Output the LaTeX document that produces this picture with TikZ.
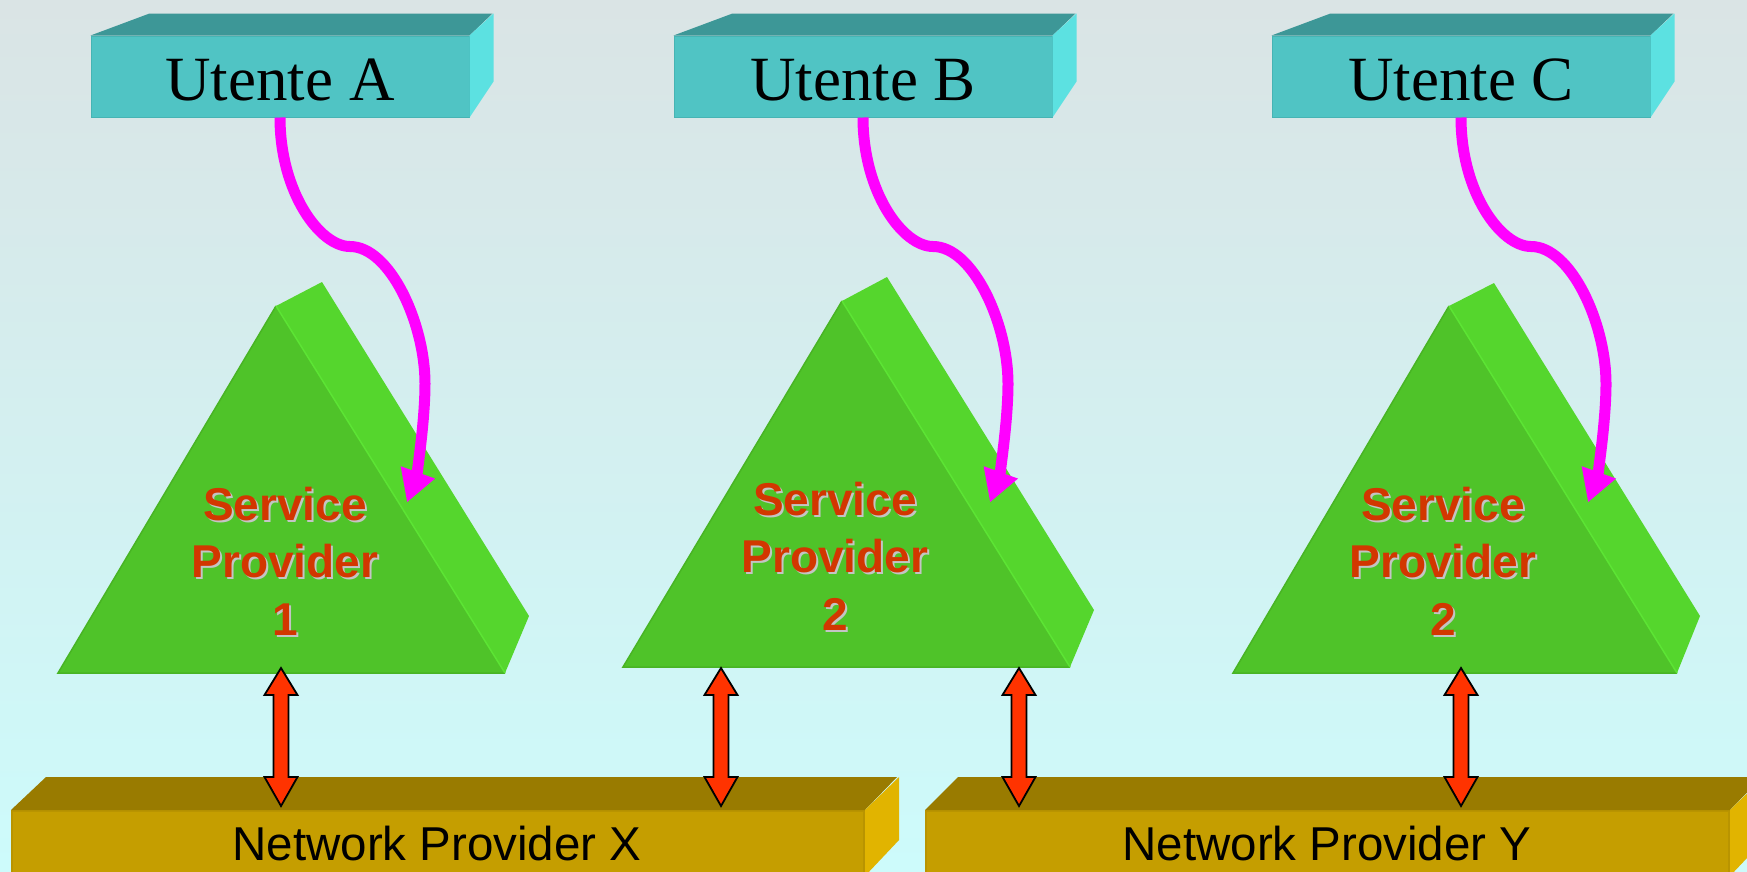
\documentclass[tikz,border=0pt]{standalone}
\usepackage{fontspec}
\setmainfont{Liberation Serif}
\setsansfont{Liberation Sans}
\usetikzlibrary{arrows.meta,calc}

% palette
\definecolor{bgtop}{RGB}{218,228,229}
\definecolor{bgbot}{RGB}{205,251,251}
\definecolor{cyfront}{RGB}{80,196,196}
\definecolor{cytop}{RGB}{61,151,151}
\definecolor{cyside}{RGB}{92,225,225}
\definecolor{cyedge}{RGB}{70,180,180}
\definecolor{grfront}{RGB}{79,195,41}
\definecolor{grside}{RGB}{85,214,45}
\definecolor{gredge}{RGB}{72,180,36}
\definecolor{grlight}{RGB}{92,228,52}
\definecolor{gdfront}{RGB}{197,158,0}
\definecolor{gdtop}{RGB}{153,123,0}
\definecolor{gdside}{RGB}{225,180,0}
\definecolor{gdedge}{RGB}{185,148,0}
\definecolor{linkmag}{RGB}{255,0,255}
\definecolor{blockred}{RGB}{255,51,0}
\definecolor{sptxt}{RGB}{210,55,0}
\definecolor{spshadow}{RGB}{196,196,196}

\tikzset{
  userface/.style={fill=cyfront, draw=cyedge, line width=1pt,
    minimum width=378pt, minimum height=81pt, inner sep=0pt,
    text height=47pt, text depth=0pt, font=\fontsize{63}{70}\selectfont},
  usertop/.style={fill=cytop},
  userside/.style={fill=cyside},
  netface/.style={fill=gdfront, draw=gdedge, line width=2pt, inner sep=0pt,
    minimum height=64pt, anchor=north west},
  nettop/.style={fill=gdtop},
  netside/.style={fill=gdside},
  nettext/.style={anchor=base, inner sep=0pt,
    font=\sffamily\fontsize{47.5}{55}\selectfont},
  spfront/.style={fill=grfront},
  spside/.style={fill=grside},
  spedge/.style={draw=gredge, line width=1.5pt},
  sphigh/.style={draw=grlight, line width=1.5pt},
  sptext/.style={align=center, inner sep=0pt, text=sptxt,
    font=\sffamily\bfseries\fontsize{46}{57.5}\selectfont},
  spshade/.style={sptext, text=spshadow},
  userlinkstyle/.style={draw=linkmag, line width=11pt,
    -{Triangle[length=32pt,width=34pt]}},
  blockarrow/.style={fill=blockred, draw=black, line width=1.8pt, line join=miter}
}

% magenta link from a user box down onto its provider
\newcommand\userlink[1]{%
  \draw[userlinkstyle] (#1.south)
    .. controls +(0,75) and +(-30,0) .. ++(70,129)
    .. controls +(40,0) and +(0,-60) .. ++(75,137)
    .. controls +(0,40) and +(9,-25) .. ++(-18,119);}

% red two-headed block arrow between a top and a bottom tip
\newcommand\blockarr[2]{%
  \draw[blockarrow] (#1) -- ($(#1)+(16.5,27)$) -- ($(#1)+(7.5,27)$)
    -- ($(#2)+(7.5,-29)$) -- ($(#2)+(16.5,-29)$) -- (#2)
    -- ($(#2)+(-16.5,-29)$) -- ($(#2)+(-7.5,-29)$)
    -- ($(#1)+(-7.5,27)$) -- ($(#1)+(-16.5,27)$) -- cycle;}

% 3-D service provider prism: apex, left, right, back apex, back right
\newcommand\prism[5]{%
  \fill[spside] (#1) -- (#4) -- (#5) -- (#3) -- cycle;
  \fill[spfront] (#1) -- (#2) -- (#3) -- cycle;
  \draw[spedge] (#1) -- (#2) -- (#3);
  \draw[sphigh] (#1) -- (#3);}

\begin{document}
\begin{tikzpicture}[x=1pt,y=-1pt]
\useasboundingbox (0,0) rectangle (1747,871);
\clip (0,0) rectangle (1747,871);
\fill[top color=bgtop, bottom color=bgbot] (0,0) rectangle (1747,871);

% ---- network providers ----
\node[netface, minimum width=852pt] (npx) at (11,810) {};
\fill[nettop] (npx.north west) -- ++(35,-33) -- ++(851,0) -- (npx.north east) -- cycle;
\fill[netside] (npx.north east) -- ++(34,-33) -- ++(0,63) -- (npx.south east) -- cycle;
\node[nettext] (npxl) at (437,860) {Network Provider X};

\node[netface, minimum width=803pt] (npy) at (925,810) {};
\fill[nettop] (npy.north west) -- ++(33,-33) -- ++(804,0) -- (npy.north east) -- cycle;
\fill[netside] (npy.north east) -- ++(34,-33) -- ++(0,63) -- (npy.south east) -- cycle;
\node[nettext] (npyl) at (1327,860) {Network Provider Y};

% ---- service providers ----
\coordinate (t1a) at (276,306); \coordinate (t1l) at (58,673);
\coordinate (t1r) at (505,673); \coordinate (t1b) at (322,282);
\coordinate (t1s) at (529,616);
\coordinate (t2a) at (842,301); \coordinate (t2l) at (623,667);
\coordinate (t2r) at (1070,667); \coordinate (t2b) at (887,277);
\coordinate (t2s) at (1094,610);
\coordinate (t3a) at (1449,306); \coordinate (t3l) at (1233,673);
\coordinate (t3r) at (1677,673); \coordinate (t3b) at (1494,283);
\coordinate (t3s) at (1700,616);
\prism{t1a}{t1l}{t1r}{t1b}{t1s}
\prism{t2a}{t2l}{t2r}{t2b}{t2s}
\prism{t3a}{t3l}{t3r}{t3b}{t3s}

\node[spshade] (sp1s) at (287,563) {Service\\Provider\\1};
\node[sptext]  (sp1)  at (285,561) {Service\\Provider\\1};
\node[spshade] (sp2s) at (837,558) {Service\\Provider\\2};
\node[sptext]  (sp2)  at (835,556) {Service\\Provider\\2};
\node[spshade] (sp3s) at (1445,563) {Service\\Provider\\2};
\node[sptext]  (sp3)  at (1443,561) {Service\\Provider\\2};

% ---- provider-to-network links ----
\coordinate (r1t) at (281,668);  \coordinate (r1b) at (281,806);
\coordinate (r2t) at (721,668);  \coordinate (r2b) at (721,806);
\coordinate (r3t) at (1019,668); \coordinate (r3b) at (1019,806);
\coordinate (r4t) at (1461,668); \coordinate (r4b) at (1461,806);
\blockarr{r1t}{r1b}
\blockarr{r2t}{r2b}
\blockarr{r3t}{r3b}
\blockarr{r4t}{r4b}

% ---- users ----
\node[userface] (ua) at (280,76.5) {Utente A};
\fill[usertop] (ua.north west) -- ++(59,-22) -- ++(343,0) -- (ua.north east) -- cycle;
\fill[userside] (ua.north east) -- ++(24,-22) -- ++(0,68) -- (ua.south east) -- cycle;

\node[userface] (ub) at (863,76.5) {Utente B};
\fill[usertop] (ub.north west) -- ++(59,-22) -- ++(343,0) -- (ub.north east) -- cycle;
\fill[userside] (ub.north east) -- ++(24,-22) -- ++(0,68) -- (ub.south east) -- cycle;

\node[userface] (uc) at (1461,76.5) {Utente C};
\fill[usertop] (uc.north west) -- ++(59,-22) -- ++(343,0) -- (uc.north east) -- cycle;
\fill[userside] (uc.north east) -- ++(24,-22) -- ++(0,68) -- (uc.south east) -- cycle;

\userlink{ua}
\userlink{ub}
\userlink{uc}
\end{tikzpicture}
\end{document}
